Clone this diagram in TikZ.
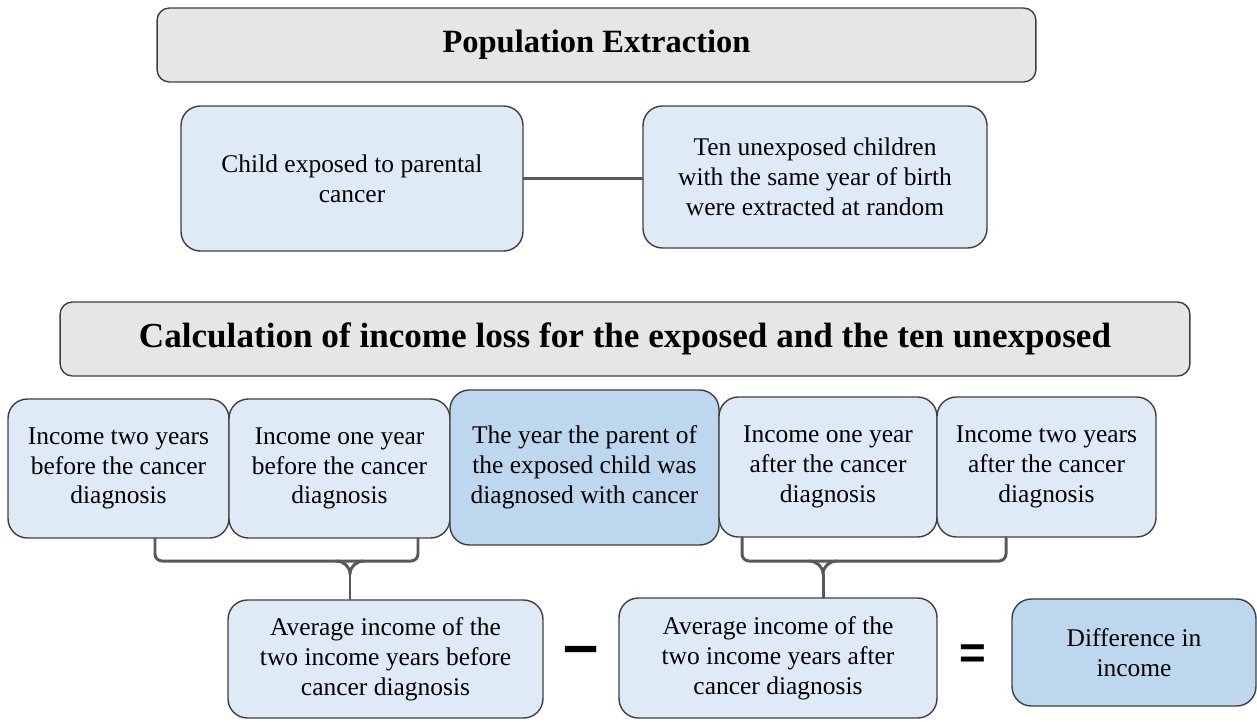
\documentclass[tikz,border=0pt]{standalone}
\usepackage{fontspec}
\setmainfont{Liberation Serif}
\setsansfont{Liberation Sans}
\usetikzlibrary{positioning}
\definecolor{boxblue}{HTML}{DEEAF6}
\definecolor{darkblue}{HTML}{BDD7EE}
\definecolor{bannergray}{HTML}{E6E6E6}
\definecolor{edgegray}{HTML}{3F3F3F}
\definecolor{bracegray}{HTML}{595959}

\begin{document}
\begin{tikzpicture}[x=0.02cm,y=-0.02cm,line cap=round,line join=round,
  banner/.style={draw=edgegray,line width=0.8pt,fill=bannergray,rounded corners=7pt,inner sep=0pt,font=\fontsize{18.5}{22}\selectfont\bfseries},
  infobox/.style={draw=edgegray,line width=0.8pt,fill=boxblue,rounded corners=11pt,inner sep=0pt,align=center,font=\fontsize{14.5}{17}\selectfont},
  keybox/.style={infobox,fill=darkblue},
  brace/.style={draw=bracegray,line width=1.7pt,rounded corners=4pt},
  sign/.style={font=\sffamily\bfseries\fontsize{26}{26}\selectfont,inner sep=0pt}]
\useasboundingbox (0,0) rectangle (1257,721);
% population extraction
\node[banner,minimum width=17.58cm,minimum height=1.48cm] (popbanner) at (596.5,45) {Population Extraction};
\node[infobox,minimum width=6.84cm,minimum height=2.90cm] (exposed) at (352,178.5) {Child exposed to parental\\cancer};
\node[infobox,minimum width=6.88cm,minimum height=2.84cm] (unexposed) at (815,177) {Ten unexposed children\\with the same year of birth\\were extracted at random};
\draw[bracegray,line width=1.5pt] (exposed.east) -- (exposed.east -| unexposed.west);
% income loss
\node[banner,minimum width=22.60cm,minimum height=1.48cm,font=\fontsize{20}{24}\selectfont\bfseries] (calcbanner) at (625,339) {Calculation of income loss for the exposed and the ten unexposed};
\node[infobox,minimum width=4.42cm,minimum height=2.78cm] (twobefore) at (118.5,468.5) {Income two years\\before the cancer\\diagnosis};
\node[infobox,minimum width=4.42cm,minimum height=2.78cm] (onebefore) at (339.5,468.5) {Income one year\\before the cancer\\diagnosis};
\node[keybox,minimum width=5.38cm,minimum height=3.10cm] (diagyear) at (584.5,467.5) {The year the parent of\\the exposed child was\\diagnosed with cancer};
\node[infobox,minimum width=4.36cm,minimum height=2.80cm] (oneafter) at (828,467) {Income one year\\after the cancer\\diagnosis};
\node[infobox,minimum width=4.38cm,minimum height=2.80cm] (twoafter) at (1046.5,467) {Income two years\\after the cancer\\diagnosis};
\node[infobox,minimum width=6.30cm,minimum height=2.36cm] (avgbefore) at (385.5,659) {Average income of the\\two income years before\\cancer diagnosis};
\node[infobox,minimum width=6.36cm,minimum height=2.40cm] (avgafter) at (778,658) {Average income of the\\two income years after\\cancer diagnosis};
\node[keybox,minimum width=4.88cm,minimum height=2.14cm] (diffincome) at (1134,652.5) {Difference in\\income};
\node[sign,font=\sffamily\bfseries\fontsize{36}{36}\selectfont] (minus) at (581,656) {–};
\node[sign] (equals) at (973,657) {=};
% brackets
\coordinate (leftfork) at (350,574);
\coordinate (rightfork) at (823,574);
\draw[brace] (155,0 |- twobefore.south) -- (155,561) -- (418,561) -- (418,0 |- onebefore.south);
\draw[brace,rounded corners=0pt] (336,561) to[out=0,in=90] (leftfork) to[out=90,in=180] (364,561);
\draw[brace,rounded corners=0pt] (leftfork) -- (leftfork |- avgbefore.north);
\draw[brace] (742,0 |- oneafter.south) -- (742,561) -- (1006,561) -- (1006,0 |- twoafter.south);
\draw[brace,rounded corners=0pt] (809,561) to[out=0,in=90] (rightfork) to[out=90,in=180] (837,561);
\draw[brace,rounded corners=0pt] (rightfork) -- (rightfork |- avgafter.north);
\end{tikzpicture}
\end{document}
